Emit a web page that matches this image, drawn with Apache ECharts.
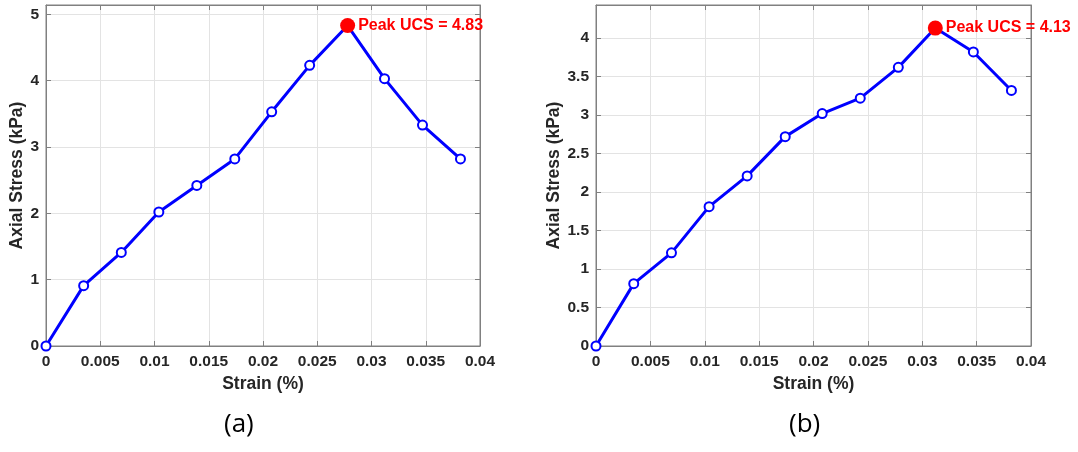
<!DOCTYPE html>
<html>
<head>
<meta charset="utf-8">
<script src="https://cdn.jsdelivr.net/npm/echarts@6/dist/echarts.min.js"></script>
<style>
html,body{margin:0;padding:0;background:#fff;}
#chart{width:1078px;height:452px;}
</style>
</head>
<body>
<div id="chart"></div>
<script>
// ---- data ----
const strainA = [0, 0.00347, 0.00694, 0.0104, 0.0139, 0.0174, 0.0208, 0.0243, 0.0278, 0.0312, 0.0347, 0.0382];
const stressA = [0, 0.91, 1.41, 2.02, 2.42, 2.82, 3.53, 4.23, 4.83, 4.03, 3.33, 2.82];
const strainB = [0, 0.00347, 0.00694, 0.0104, 0.0139, 0.0174, 0.0208, 0.0243, 0.0278, 0.0312, 0.0347, 0.0382];
const stressB = [0, 0.81, 1.21, 1.81, 2.21, 2.72, 3.02, 3.22, 3.62, 4.13, 3.82, 3.32];
const xTicks = [0, 0.005, 0.01, 0.015, 0.02, 0.025, 0.03, 0.035, 0.04];
const captions = ['(a)', '(b)'];
const xName = 'Strain (%)';
const yName = 'Axial Stress (kPa)';
const peakPrefix = 'Peak UCS = ';

function peakOf(xs, ys) {
  let k = 0;
  ys.forEach((v, i) => { if (v > ys[k]) k = i; });
  return [xs[k], ys[k]];
}
const peakA = peakOf(strainA, stressA);
const peakB = peakOf(strainB, stressB);

const FONT = 'Liberation Sans';
const TXT = '#262626';
const AX = '#808080';

function xAxisPair(gi) {
  const base = {
    type: 'value', gridIndex: gi, min: xTicks[0], max: xTicks[xTicks.length - 1],
    interval: xTicks[1] - xTicks[0],
    axisLine: { show: true, onZero: false, lineStyle: { color: AX, width: 1 } },
    axisTick: { show: true, inside: true, length: 5, lineStyle: { color: AX } }
  };
  return [
    Object.assign({}, base, {
      position: 'bottom',
      name: xName, nameLocation: 'middle', nameGap: 29,
      nameTextStyle: { color: TXT, fontFamily: FONT, fontWeight: 'bold', fontSize: 17.5 },
      axisLabel: { color: TXT, fontFamily: FONT, fontWeight: 'bold', fontSize: 15.5, margin: 8 },
      splitLine: { show: true, lineStyle: { color: '#e3e3e3', width: 1 } }
    }),
    Object.assign({}, base, {
      position: 'top', axisLabel: { show: false }, splitLine: { show: false }
    })
  ];
}
function yAxisPair(gi, max, interval, gap) {
  const base = {
    type: 'value', gridIndex: gi, min: 0, max: max, interval: interval,
    axisLine: { show: true, onZero: false, lineStyle: { color: AX, width: 1 } },
    axisTick: { show: true, inside: true, length: 5, lineStyle: { color: AX } }
  };
  return [
    Object.assign({}, base, {
      position: 'left',
      name: yName, nameLocation: 'middle', nameGap: gap,
      nameTextStyle: { color: TXT, fontFamily: FONT, fontWeight: 'bold', fontSize: 17.5 },
      axisLabel: { color: TXT, fontFamily: FONT, fontWeight: 'bold', fontSize: 15.5, margin: 7, showMaxLabel: false },
      splitLine: { show: true, lineStyle: { color: '#e3e3e3', width: 1 } }
    }),
    Object.assign({}, base, {
      position: 'right', axisLabel: { show: false }, splitLine: { show: false }
    })
  ];
}

function lineSeries(xi, yi, xs, ys) {
  return {
    type: 'line', xAxisIndex: xi, yAxisIndex: yi,
    data: xs.map((x, i) => [x, ys[i]]),
    lineStyle: { color: '#0000ff', width: 3 },
    symbol: 'emptyCircle', symbolSize: 9,
    itemStyle: { color: '#0000ff', borderColor: '#0000ff', borderWidth: 2.6 },
    clip: false, z: 2, animation: false
  };
}
function peakSeries(xi, yi, p) {
  return {
    type: 'scatter', xAxisIndex: xi, yAxisIndex: yi,
    data: [p], symbol: 'circle', symbolSize: 15,
    itemStyle: { color: '#ff0000', borderWidth: 0, opacity: 1 },
    label: {
      show: true, position: 'right', distance: 3,
      formatter: (d) => peakPrefix + d.value[1].toFixed(2),
      color: '#ff0000', fontFamily: FONT, fontWeight: 'bold', fontSize: 16
    },
    clip: false, z: 5, animation: false
  };
}

const chart = echarts.init(document.getElementById('chart'), null, { renderer: 'canvas' });
chart.setOption({
  backgroundColor: '#ffffff',
  animation: false,
  grid: [
    { left: 46, right: 598, top: 5, bottom: 106, show: true, borderColor: AX, borderWidth: 1, backgroundColor: 'transparent' },
    { left: 596, right: 47, top: 5, bottom: 106, show: true, borderColor: AX, borderWidth: 1, backgroundColor: 'transparent' }
  ],
  xAxis: [].concat(xAxisPair(0), xAxisPair(1)),
  yAxis: [].concat(yAxisPair(0, 5.14, 1, 19), yAxisPair(1, 4.43, 0.5, 30)),
  series: [
    lineSeries(0, 0, strainA, stressA),
    peakSeries(0, 0, peakA),
    lineSeries(2, 2, strainB, stressB),
    peakSeries(2, 2, peakB)
  ],
  graphic: [
    { type: 'text', left: 224, top: 412, style: { text: captions[0], fill: '#000', font: '26px "Open Sans"' } },
    { type: 'text', left: 789, top: 412, style: { text: captions[1], fill: '#000', font: '26px "Open Sans"' } }
  ]
});
</script>
</body>
</html>
